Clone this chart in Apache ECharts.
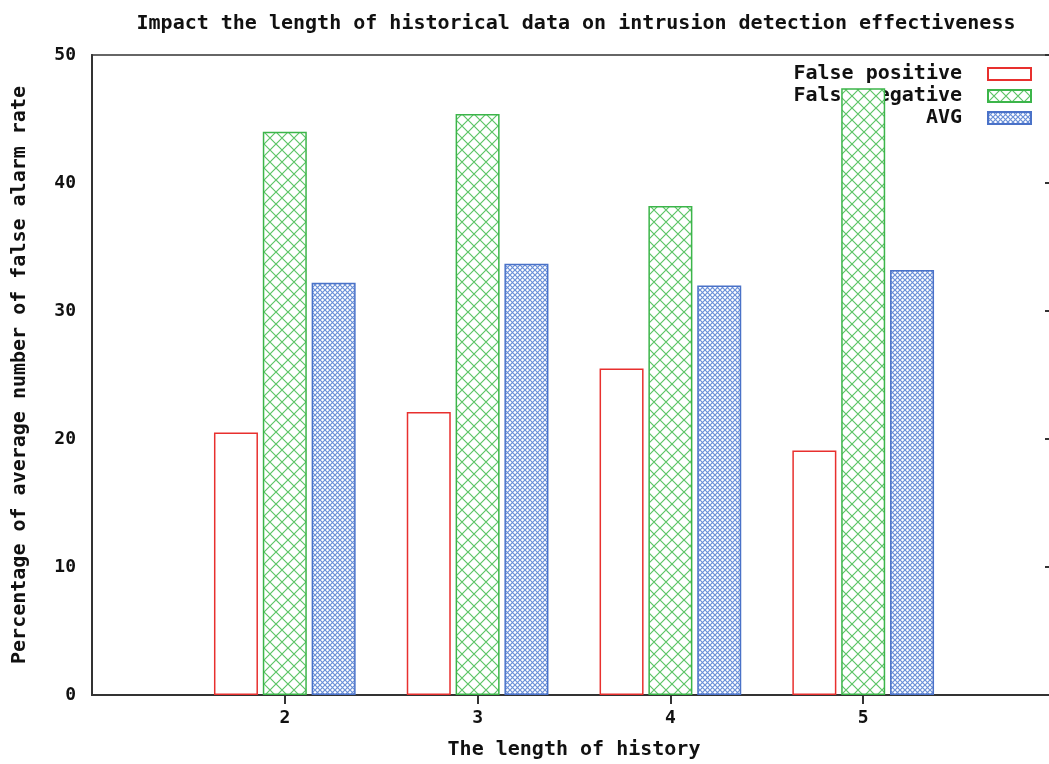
<!DOCTYPE html>
<html>
<head>
<meta charset="utf-8">
<script src="https://cdn.jsdelivr.net/npm/echarts@6/dist/echarts.min.js"></script>
<style>html,body{margin:0;padding:0;background:#fff}#c{width:1049px;height:764px}</style>
</head>
<body>
<div id="c"></div>
<script>
const categories = ['', '2', '3', '4', '5', ''];
const falsePositive = [null, 20.5, 22.1, 25.5, 19.1, null];
const falseNegative = [null, 44.0, 45.4, 38.2, 47.4, null];
const avg = [null, 32.2, 33.7, 32.0, 33.2, null];
const yTicks = { min: 0, max: 50, interval: 10 };

function makePattern(size, color, lw) {
  const c = document.createElement('canvas');
  c.width = size; c.height = size;
  const g = c.getContext('2d');
  g.fillStyle = '#fff';
  g.fillRect(0, 0, size, size);
  g.strokeStyle = color;
  g.lineWidth = lw;
  g.beginPath();
  g.moveTo(0, 0); g.lineTo(size, size);
  g.moveTo(size, 0); g.lineTo(0, size);
  g.stroke();
  return { image: c, repeat: 'repeat' };
}

const FONT = 'DejaVu Sans Mono';
const chart = echarts.init(document.getElementById('c'));
chart.setOption({
  backgroundColor: '#fff',
  animation: false,
  title: {
    text: 'Impact the length of historical data on intrusion detection effectiveness',
    left: 571, top: 9, textAlign: 'center',
    textStyle: { fontFamily: FONT, fontWeight: 'bold', fontSize: 20, color: '#111' }
  },
  legend: {
    orient: 'vertical', right: 12, top: 59, align: 'right', z: 1,
    itemWidth: 43, itemHeight: 12, itemGap: 2,
    textStyle: { fontFamily: FONT, fontWeight: 'bold', fontSize: 20, color: '#111', padding: [0, 21, 0, 0] },
    icon: 'rect'
  },
  grid: {
    left: 92, top: 55, height: 640, width: 964,
    outerBoundsMode: 'none', containLabel: false,
    show: true, borderColor: '#666', borderWidth: 2
  },
  xAxis: [{
    type: 'category', data: categories, boundaryGap: false, position: 'bottom',
    name: 'The length of history', nameLocation: 'middle', nameGap: 45,
    nameTextStyle: { fontFamily: FONT, fontWeight: 'bold', fontSize: 20, color: '#111' },
    axisLine: { lineStyle: { color: '#333', width: 2 } },
    axisTick: { inside: true, length: 9, interval: (i, v) => v !== '', lineStyle: { color: '#333', width: 2 } },
    axisLabel: { margin: 14, interval: 0, fontFamily: FONT, fontWeight: 'bold', fontSize: 18, color: '#111' },
    splitLine: { show: false }
  }, {
    type: 'category', data: categories, boundaryGap: false, position: 'top',
    axisLine: { show: false },
    axisTick: { inside: true, length: 9, interval: (i, v) => v !== '', lineStyle: { color: '#333', width: 2 } },
    axisLabel: { show: false }, splitLine: { show: false }
  }],
  yAxis: [{
    type: 'value', min: yTicks.min, max: yTicks.max, interval: yTicks.interval,
    name: 'Percentage of average number of false alarm rate', nameLocation: 'middle', nameGap: 62,
    nameTextStyle: { fontFamily: FONT, fontWeight: 'bold', fontSize: 20, color: '#111' },
    axisLine: { show: true, lineStyle: { color: '#333', width: 2 } },
    axisTick: { show: false },
    axisLabel: { margin: 16, fontFamily: FONT, fontWeight: 'bold', fontSize: 18, color: '#111' },
    splitLine: { show: false }
  }, {
    type: 'value', min: yTicks.min, max: yTicks.max, interval: yTicks.interval, position: 'right',
    axisLine: { show: false },
    axisTick: { show: true, inside: true, length: 11, lineStyle: { color: '#333', width: 2 } },
    axisLabel: { show: false }, splitLine: { show: false }
  }],
  series: [{
    name: 'False positive', type: 'bar', data: falsePositive, barWidth: 44, barGap: '11%',
    itemStyle: { color: '#fff', borderColor: '#e8302e', borderWidth: 1.5 }
  }, {
    name: 'False negative', type: 'bar', data: falseNegative, barWidth: 44, barGap: '11%',
    itemStyle: { color: makePattern(12, '#5cc466', 1.2), borderColor: '#3cb54a', borderWidth: 1.5 }
  }, {
    name: 'AVG', type: 'bar', data: avg, barWidth: 44, barGap: '11%',
    itemStyle: { color: makePattern(5, '#6a90d8', 1.2), borderColor: '#4a72c8', borderWidth: 1.5 }
  }]
});
</script>
</body>
</html>
